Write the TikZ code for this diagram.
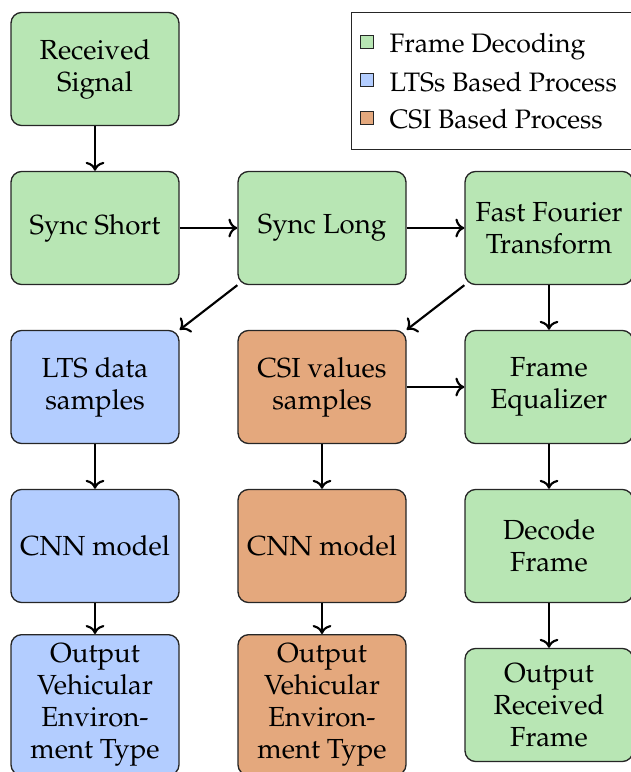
\documentclass[tikz,border=0pt]{standalone}
\usepackage[T1]{fontenc}
\usepackage{mathpazo}
\usetikzlibrary{arrows.meta}
\definecolor{gfill}{RGB}{184,230,180}
\definecolor{bfill}{RGB}{179,205,255}
\definecolor{ofill}{RGB}{228,168,125}
\tikzset{
  procbox/.style={draw=black!85, line width=0.5pt, rounded corners=4pt, align=center,
    minimum width=63pt, minimum height=42.4pt, font=\fontsize{10.35pt}{12pt}\selectfont},
  gbox/.style={procbox, fill=gfill},
  bbox/.style={procbox, fill=bfill},
  obox/.style={procbox, fill=ofill},
  conn/.style={->, thick, black},
  legsq/.style={draw=black!85, line width=0.4pt, minimum size=4.6pt, inner sep=0pt},
  legtxt/.style={anchor=base west, inner sep=0pt}
}
\begin{document}
\begin{tikzpicture}[x=0.375pt, y=-0.375pt]
\useasboundingbox (0,0) rectangle (630,772);
% column 1
\node[gbox] (rs) at (95,69) {Received\\Signal};
\node[gbox] (ss) at (95,228) {Sync Short};
\node[bbox] (lts) at (95,387) {LTS data\\samples};
\node[bbox] (cnn1) at (95,546) {CNN model};
\node[bbox] (out1) at (95,705) {Output\\Vehicular\\Environ-\\ment Type};
% column 2
\node[gbox] (sl) at (322,228) {Sync Long};
\node[obox] (csi) at (322,387) {CSI values\\samples};
\node[obox] (cnn2) at (322,546) {CNN model};
\node[obox] (out2) at (322,705) {Output\\Vehicular\\Environ-\\ment Type};
% column 3
\node[gbox] (fft) at (549,228) {Fast Fourier\\Transform};
\node[gbox] (fe) at (549,387) {Frame\\Equalizer};
\node[gbox] (df) at (549,546) {Decode\\Frame};
\node[gbox] (out3) at (549,705) {Output\\Received\\Frame};
% connectors
\draw[conn] (rs) -- (ss);
\draw[conn] (ss) -- (sl);
\draw[conn] (sl) -- (fft);
\draw[conn] (sl.south west) -- (lts.north east);
\draw[conn] (fft.south west) -- (csi.north east);
\draw[conn] (fft) -- (fe);
\draw[conn] (csi) -- (fe);
\draw[conn] (lts) -- (cnn1);
\draw[conn] (cnn1) -- (out1);
\draw[conn] (csi) -- (cnn2);
\draw[conn] (cnn2) -- (out2);
\draw[conn] (fe) -- (df);
\draw[conn] (df) -- (out3);
% legend
\node[draw=black!85, line width=0.5pt, fill=white, minimum width=108.4pt, minimum height=51.4pt, anchor=north west, inner sep=0pt] (legend) at (351,12) {};
\node[legsq, fill=gfill] (lg1) at (367,42) {};
\node[legsq, fill=bfill] (lg2) at (367,80) {};
\node[legsq, fill=ofill] (lg3) at (367,118) {};
\node[legtxt] (lt1) at (389,52) {Frame Decoding};
\node[legtxt] (lt2) at (389,91) {LTSs Based Process};
\node[legtxt] (lt3) at (389,128) {CSI Based Process};
\end{tikzpicture}
\end{document}
